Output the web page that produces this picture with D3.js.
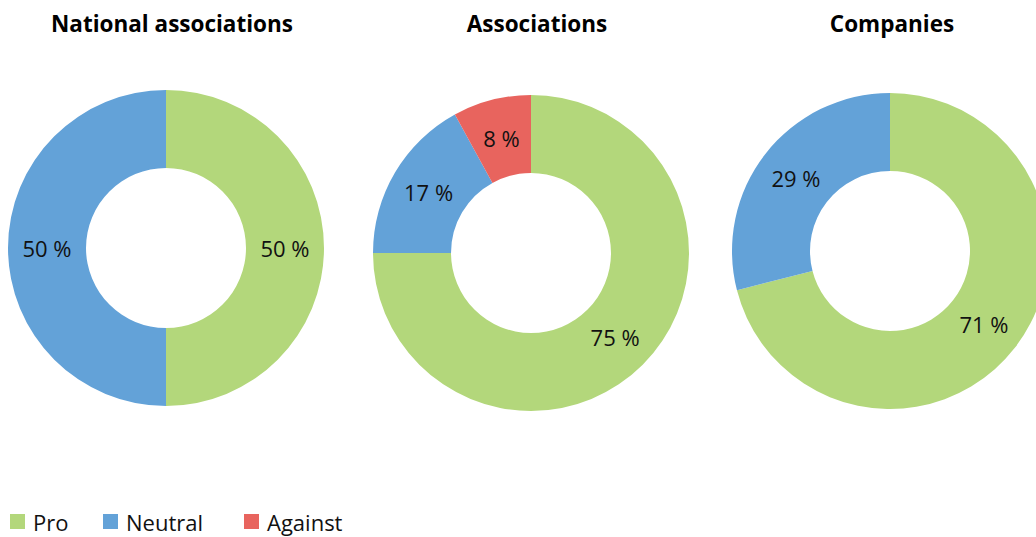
<!DOCTYPE html>
<html>
<head>
<meta charset="utf-8">
<script src="https://cdn.jsdelivr.net/npm/d3@7"></script>
<style>
  html, body { margin: 0; padding: 0; background: #fff; }
  svg { display: block; font-family: "Open Sans", "Liberation Sans", sans-serif; }
</style>
</head>
<body>
<svg id="chart" width="1036" height="537"></svg>
<script>
// Survey groups and their share of answers (percent)
const groups = ["National associations", "Associations", "Companies"];
const categories = ["Pro", "Neutral", "Against"];
const proValues = [50, 75, 71];
const neutralValues = [50, 17, 29];
const againstValues = [0, 8, 0];

const colors = ["#b3d77b", "#63a2d8", "#e8645e"];

const svg = d3.select("#chart");

const centers = [
  { x: 166, y: 248 },
  { x: 531, y: 253 },
  { x: 890, y: 251 }
];
const titleX = [172, 537, 892];
const outerR = 158, innerR = 80;

const color = d3.scaleOrdinal().domain(categories).range(colors);
const pie = d3.pie().sort(null).value(d => d.value);
const arc = d3.arc().innerRadius(innerR).outerRadius(outerR);
const labelArc = d3.arc().innerRadius(119).outerRadius(119);

groups.forEach((g, i) => {
  const data = categories.map((c, k) => ({
    cat: c,
    value: [proValues, neutralValues, againstValues][k][i]
  }));
  const arcs = pie(data).filter(a => a.data.value > 0);
  const gr = svg.append("g").attr("transform", `translate(${centers[i].x},${centers[i].y})`);
  gr.selectAll("path").data(arcs).join("path")
    .attr("d", arc)
    .attr("fill", d => color(d.data.cat));
  gr.selectAll("text").data(arcs).join("text")
    .attr("transform", d => `translate(${labelArc.centroid(d)})`)
    .attr("text-anchor", "middle")
    .attr("dominant-baseline", "central")
    .attr("font-size", 22)
    .attr("fill", "#111")
    .text(d => `${d.data.value} %`);
  svg.append("text")
    .attr("x", titleX[i]).attr("y", 32)
    .attr("text-anchor", "middle")
    .attr("font-size", 22.5)
    .attr("font-weight", "bold")
    .attr("fill", "#000")
    .text(g);
});

// Legend
const legendX = [10, 103, 244];
const legend = svg.append("g");
categories.forEach((c, k) => {
  legend.append("rect")
    .attr("x", legendX[k]).attr("y", 514)
    .attr("width", 15).attr("height", 15)
    .attr("fill", color(c));
  legend.append("text")
    .attr("x", legendX[k] + 23).attr("y", 531)
    .attr("font-size", 22)
    .attr("fill", "#111")
    .text(c);
});
</script>
</body>
</html>
